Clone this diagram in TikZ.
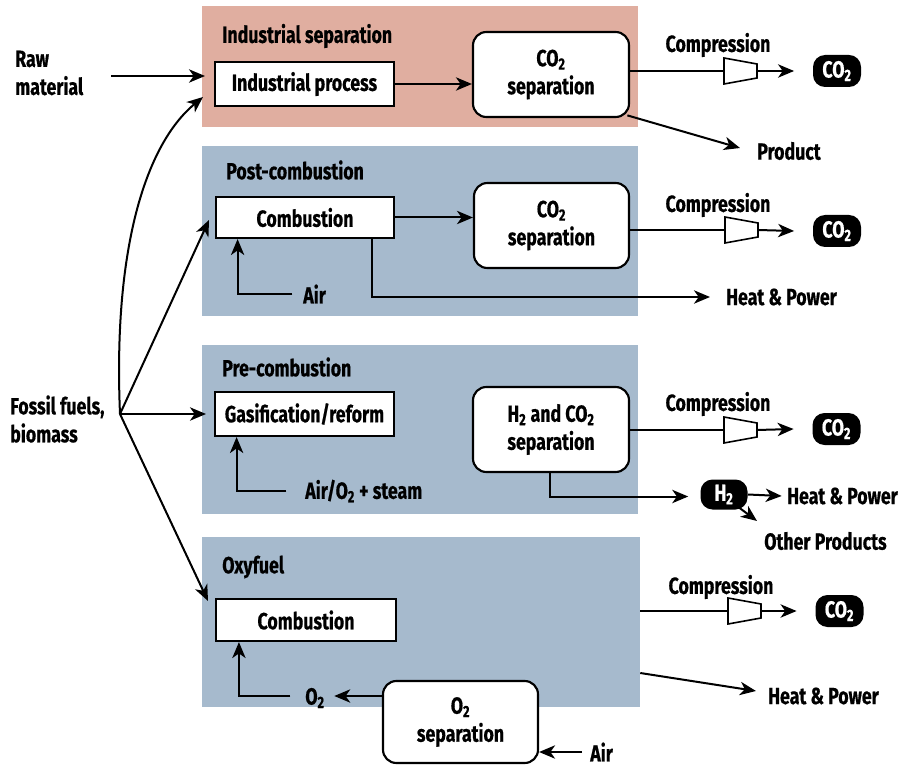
\documentclass[tikz,border=0pt]{standalone}
\usepackage{fontspec}
\setmainfont{Fira Sans}[FakeStretch=0.76, BoldFeatures={FakeBold=0.6}]
\usetikzlibrary{arrows.meta}
\definecolor{salmon}{RGB}{224,174,160}
\definecolor{steel}{RGB}{166,186,205}
\tikzset{
  txt/.style={font=\fontsize{17.5}{21}\selectfont\bfseries, inner sep=0pt},
  panel/.style n args={3}{fill=#1, minimum width=#2*0.75pt, minimum height=#3*0.75pt, inner sep=0pt},
  sq/.style 2 args={draw, line width=1.6pt, fill=white, txt, align=center, minimum width=#1*0.75pt, minimum height=#2*0.75pt},
  rbox/.style 2 args={sq={#1}{#2}, rounded corners=10pt},
  pill/.style={fill=black, text=white, txt, rounded corners=9pt, minimum width=48*0.75pt, minimum height=32*0.75pt},
  ln/.style={line width=1.5pt},
  arr/.style={line width=1.5pt, -{Stealth[length=12pt,width=10pt,inset=3.5pt]}},
  comp/.pic={\draw[line width=1.2pt, fill=white] (-16,-13) -- (17,-7) -- (17,7) -- (-16,13) -- cycle;
             \coordinate (-in) at (-16,0); \coordinate (-out) at (17,0);}
}
\begin{document}
\begin{tikzpicture}[x=0.75pt, y=-0.75pt]
\useasboundingbox (0,0) rectangle (902,766);
% panels
\node[panel={salmon}{436}{121}] (P1) at (420,66.5) {};
\node[panel={steel}{436}{170}] (P2) at (420,231) {};
\node[panel={steel}{436}{169}] (P3) at (420,429.5) {};
\node[panel={steel}{438}{170}] (P4) at (421,622) {};
% titles
\node[txt, anchor=west] (t1) at (222,36) {Industrial separation};
\node[txt, anchor=west] (t2) at (226,170) {Post-combustion};
\node[txt, anchor=west] (t3) at (222,367) {Pre-combustion};
\node[txt, anchor=west] (t4) at (222,567) {Oxyfuel};
% left texts
\node[txt, align=left, anchor=west] (raw) at (15,73) {Raw\\material};
\node[txt, align=left, anchor=west] (ff) at (10,419) {Fossil fuels,\\biomass};
\coordinate (br) at (120,414);
% boxes
\node[sq={179}{44}] (ip) at (304.5,84) {Industrial process};
\node[rbox={156}{85}] (sep1) at (551,74.5) {CO\textsubscript{2}\\separation};
\node[sq={178}{41}] (comb1) at (305,217.5) {Combustion};
\node[rbox={155}{85}] (sep2) at (551.5,225.5) {CO\textsubscript{2}\\separation};
\node[sq={179}{44}] (gas) at (304.5,414) {Gasification/reform};
\node[rbox={156}{85}] (sep3) at (551,429.5) {H\textsubscript{2} and CO\textsubscript{2}\\separation};
\node[sq={180}{42}] (comb4) at (306,620) {Combustion};
\node[rbox={155}{82}] (o2sep) at (460.5,722) {O\textsubscript{2}\\separation};
% compressors
\pic (c1) at (740,71) {comp};
\pic (c2) at (741,230) {comp};
\pic (c3) at (740,430) {comp};
\pic (c4) at (744,611) {comp};
\node[txt] (k1) at (718,45) {Compression};
\node[txt] (k2) at (718,205) {Compression};
\node[txt] (k3) at (718,404) {Compression};
\node[txt] (k4) at (721,587) {Compression};
% CO2 pills
\node[pill] (co1) at (837,71) {CO\textsubscript{2}};
\node[pill] (co2) at (837,231) {CO\textsubscript{2}};
\node[pill] (co3) at (836.5,429) {CO\textsubscript{2}};
\node[pill] (co4) at (839.5,611) {CO\textsubscript{2}};
\node[pill, minimum width=47*0.75pt, minimum height=30*0.75pt] (h2) at (724,494.5) {H\textsubscript{2}};
% other labels
\node[txt, anchor=west] (prod) at (757,151) {Product};
\node[txt, anchor=west] (air2) at (303,294) {Air};
\node[txt, anchor=west] (hp2) at (726,297) {Heat \& Power};
\node[txt, anchor=west] (air3) at (305,491) {Air/O\textsubscript{2} + steam};
\node[txt, anchor=west] (hp3) at (787,496) {Heat \& Power};
\node[txt, anchor=west] (oth) at (764,541) {Other Products};
\node[txt, anchor=west] (hp4) at (768,696) {Heat \& Power};
\node[txt] (o2l) at (315,698) {O\textsubscript{2}};
\node[txt, anchor=west] (air4) at (590,752) {Air};
% industrial row
\draw[arr] (111,76) coordinate (rawend) -- (205,76) coordinate (ipin);
\draw[arr] (ip.east) -- (sep1.west |- ip.east);
\draw[ln] (c1-in -| sep1.east) -- (c1-in);
\draw[arr] (c1-out) -- ([xshift=-14pt]co1.west);
\draw[arr] ([xshift=-2pt,yshift=2pt]sep1.south east) -- (740,148) coordinate (prodtip);
% fossil fuel branches
\coordinate (e1) at (203,97);
\coordinate (e2) at (209,220);
\coordinate (e3) at (206,414);
\coordinate (e4) at (208,601);
\draw[arr] (br) .. controls (113,250) and (145,145) .. (e1);
\draw[arr] (br) -- (e2);
\draw[arr] (br) -- (e3);
\draw[arr] (br) -- (e4);
% post-combustion
\draw[arr] (comb1.east) -- (sep2.west |- comb1.east);
\draw[ln] (c2-in -| sep2.east) -- (c2-in);
\draw[arr] (c2-out) -- ([xshift=-14pt]co2.west);
\draw[arr] ([xshift=-8pt]air2.west) -| ([xshift=17pt]comb1.south west);
\draw[arr] ([xshift=-17pt]comb1.south east) |- ([xshift=-12pt]hp2.west);
% pre-combustion
\draw[ln] (c3-in -| sep3.east) -- (c3-in);
\draw[arr] (c3-out) -- ([xshift=-14pt]co3.west);
\draw[arr] ([xshift=-14pt]air3.west) -| ([xshift=17pt]gas.south west);
\draw[arr] ([xshift=-1pt]sep3.south) |- ([xshift=-9pt,yshift=-1.5pt]h2.west);
\draw[arr] (h2.east) -- ([xshift=-4pt]hp3.west);
\draw[arr] ([xshift=-7pt,yshift=2pt]h2.south east) -- (757,521) coordinate (othtip);
% oxyfuel
\draw[ln] (c4-in -| P4.east) -- (c4-in);
\draw[arr] (c4-out) -- ([xshift=-14pt]co4.west);
\draw[arr] (P4.east |- 0,673) -- (756,691) coordinate (hp4tip);
\draw[arr] (o2sep.west |- 0,696) -- ([xshift=7pt]o2l.east |- 0,696);
\draw[arr] ([xshift=-11pt]o2l.west |- 0,696) -| ([xshift=18pt]comb4.south west);
\draw[arr] ([xshift=-6pt]air4.west) -- (o2sep.east |- air4.west);
\end{tikzpicture}
\end{document}
